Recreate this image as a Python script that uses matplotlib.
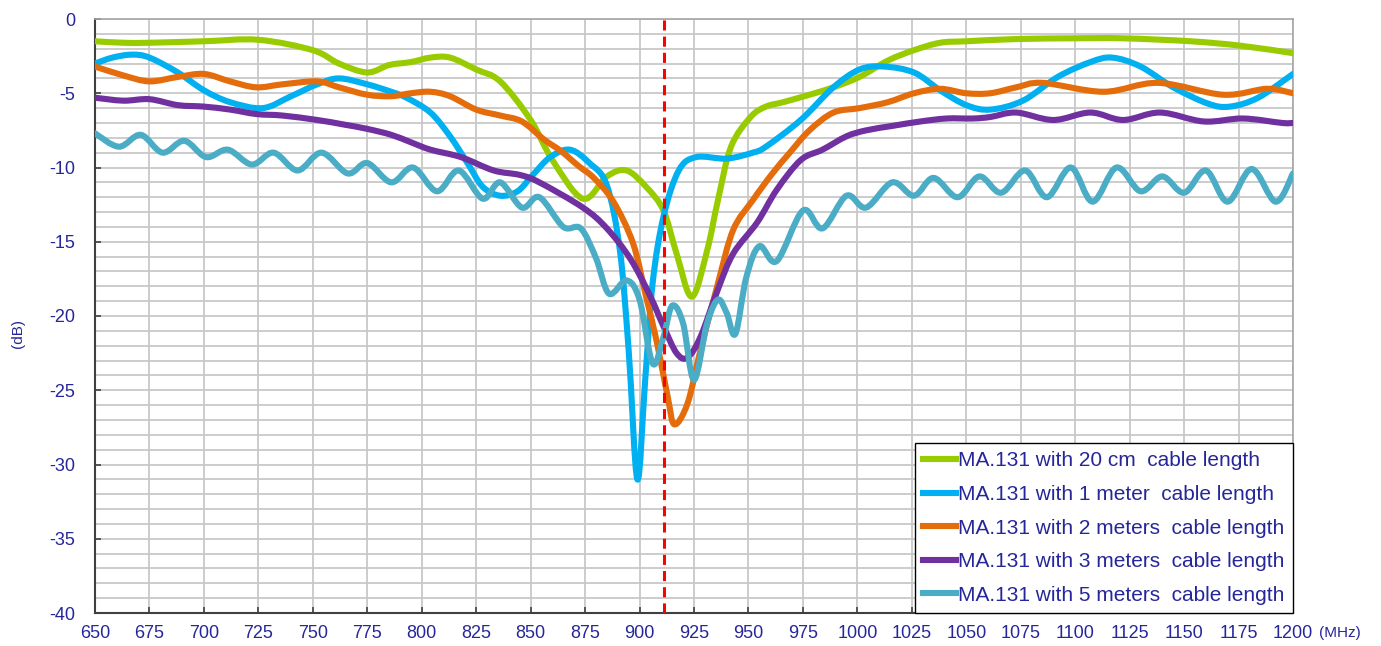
import numpy as np
import matplotlib
matplotlib.use('Agg')
import matplotlib.pyplot as plt
from matplotlib.path import Path
from matplotlib.patches import PathPatch

# frequency (MHz) / return loss (dB)
green_f = [650, 663, 675, 700, 725, 750, 762, 775, 785, 795, 804, 813, 825, 836, 850, 860, 874, 885, 894, 903, 911, 917, 924, 931, 936, 942, 951, 958, 966, 978, 989, 1001, 1014, 1026, 1038, 1050, 1073, 1100, 1122, 1153, 1176, 1200]
green_db = [-1.5, -1.6, -1.6, -1.5, -1.4, -2.1, -3.0, -3.6, -3.1, -2.9, -2.6, -2.6, -3.4, -4.2, -6.8, -9.5, -12.1, -10.6, -10.2, -11.3, -12.9, -15.8, -18.7, -15.6, -12.2, -8.6, -6.6, -5.9, -5.6, -5.1, -4.6, -3.9, -2.8, -2.1, -1.6, -1.5, -1.35, -1.3, -1.3, -1.5, -1.8, -2.3]

blue_f = [650, 658, 667, 675, 688, 700, 712, 727, 740, 752, 762, 775, 786, 793, 804, 813, 821, 828, 836, 844, 851, 859, 868, 877, 885, 891, 895, 899, 902.5, 906, 911, 918, 926, 940, 952, 958, 974, 989, 1001, 1012, 1026, 1038, 1050, 1061, 1076, 1092, 1107, 1117, 1130, 1145, 1161, 1171, 1184, 1200]
blue_db = [-3.0, -2.6, -2.4, -2.6, -3.6, -4.8, -5.6, -6.0, -5.2, -4.4, -4.0, -4.4, -4.9, -5.3, -6.3, -7.9, -9.7, -11.3, -11.9, -11.6, -10.5, -9.3, -8.8, -9.7, -11.2, -15.6, -22.3, -31.0, -24.5, -17.8, -13.3, -10.2, -9.3, -9.4, -9.0, -8.6, -6.8, -4.6, -3.4, -3.2, -3.6, -4.8, -5.8, -6.1, -5.5, -3.9, -2.9, -2.6, -3.2, -4.6, -5.7, -5.9, -5.3, -3.7]

orange_f = [650, 663, 675, 688, 700, 712, 724, 736, 752, 762, 775, 786, 795, 804, 813, 825, 836, 846, 856, 864, 872, 879, 888, 897, 903, 908, 913, 916, 922, 928, 936, 943, 952, 961, 969, 978, 989, 1001, 1014, 1026, 1038, 1050, 1061, 1073, 1085, 1113, 1138, 1168, 1188, 1200]
orange_db = [-3.2, -3.8, -4.2, -3.9, -3.7, -4.2, -4.6, -4.4, -4.2, -4.6, -5.1, -5.2, -5.0, -4.9, -5.2, -6.1, -6.5, -6.9, -8.1, -8.9, -9.9, -10.7, -12.3, -15.1, -18.7, -21.8, -25.5, -27.3, -25.9, -22.3, -17.8, -14.2, -12.2, -10.4, -9.0, -7.5, -6.3, -6.0, -5.6, -5.0, -4.7, -5.0, -5.0, -4.6, -4.3, -4.9, -4.3, -5.1, -4.7, -5.0]

purple_f = [650, 663, 675, 688, 700, 712, 724, 736, 752, 764, 775, 786, 795, 804, 818, 833, 845, 854, 874, 885, 896, 905, 911, 917, 922, 928, 936, 943, 954, 963, 974, 984, 995, 1004, 1016, 1029, 1041, 1053, 1061, 1073, 1090, 1107, 1122, 1139, 1159, 1177, 1195, 1200]
purple_db = [-5.3, -5.5, -5.4, -5.8, -5.9, -6.1, -6.4, -6.5, -6.8, -7.1, -7.4, -7.8, -8.3, -8.8, -9.3, -10.2, -10.5, -11.0, -12.7, -14.1, -16.2, -18.7, -20.7, -22.5, -22.8, -21.4, -18.2, -15.8, -13.7, -11.5, -9.5, -8.8, -7.9, -7.5, -7.2, -6.9, -6.7, -6.7, -6.6, -6.3, -6.8, -6.3, -6.8, -6.3, -6.9, -6.7, -7.0, -7.0]

teal_f = [650, 661, 671, 681, 691, 701, 711, 722, 732, 743, 754, 766, 775, 786, 796, 807, 817, 828, 836, 846, 854, 865, 873, 880, 886, 894, 900, 906, 911, 915, 920, 925, 931, 936, 940, 944, 949, 955, 963, 975, 984, 995, 1004, 1016, 1026, 1035, 1046, 1056, 1066, 1077, 1087, 1098, 1108, 1119, 1130, 1140, 1150, 1160, 1170, 1181, 1192, 1200]
teal_db = [-7.7, -8.6, -7.8, -9.0, -8.2, -9.3, -8.8, -9.8, -9.0, -10.2, -9.0, -10.4, -9.7, -11.0, -10.0, -11.6, -10.2, -12.1, -11.0, -12.7, -12.0, -14.0, -14.1, -16.1, -18.5, -17.6, -18.9, -23.2, -21.4, -19.3, -20.5, -24.3, -20.5, -18.9, -19.8, -21.2, -17.4, -15.3, -16.3, -12.9, -14.1, -11.9, -12.7, -11.0, -11.9, -10.7, -12.0, -10.6, -11.7, -10.2, -12.0, -10.0, -12.3, -10.0, -11.6, -10.6, -11.7, -10.2, -12.3, -10.1, -12.3, -10.4]

labels = ['MA.131 with 20 cm  cable length',
          'MA.131 with 1 meter  cable length',
          'MA.131 with 2 meters  cable length',
          'MA.131 with 3 meters  cable length',
          'MA.131 with 5 meters  cable length']
colors = ['#99CC00', '#00B0F0', '#E46C0A', '#7030A0', '#4BACC6']
marker_freq = 911  # red dashed line

x_ticks = list(range(650, 1201, 25))
y_ticks = list(range(-40, 1, 5))


def smooth_path(xs, ys):
    # excel style smoothed line: catmull-rom segments as cubic beziers
    p = np.column_stack([xs, ys]).astype(float)
    pts = [p[0]]
    codes = [Path.MOVETO]
    n = len(p)
    for i in range(n - 1):
        p0 = p[max(i - 1, 0)]
        p1 = p[i]
        p2 = p[i + 1]
        p3 = p[min(i + 2, n - 1)]
        pts += [p1 + (p2 - p0) / 6, p2 - (p3 - p1) / 6, p2]
        codes += [Path.CURVE4] * 3
    return Path(pts, codes)


navy = '#26269A'
plt.rcParams['font.family'] = ['Liberation Sans', 'DejaVu Sans']
plt.rcParams['axes.unicode_minus'] = False

fig = plt.figure(figsize=(13.81, 6.46), dpi=100)
ax = fig.add_axes([95/1381, 1 - 613/646, (1293-95)/1381, (613-19)/646])

series = [(green_f, green_db), (blue_f, blue_db), (orange_f, orange_db),
          (purple_f, purple_db), (teal_f, teal_db)]
for (f, db), c, lab in zip(series, colors, labels):
    patch = PathPatch(smooth_path(f, db), facecolor='none', edgecolor=c, lw=4.4,
                      joinstyle='round', capstyle='round', zorder=3)
    ax.add_patch(patch)
    ax.plot([], [], color=c, lw=4.4, label=lab)

ax.axvline(marker_freq, color='#FF0000', lw=2.2, linestyle=(0, (3.3, 2.0)), zorder=4)

ax.set_xlim(650, 1200)
ax.set_ylim(-40, 0)
ax.set_xticks(x_ticks)
ax.set_yticks(y_ticks)
ax.set_yticks(np.arange(-40, 0, 1), minor=True)
ax.grid(which='both', color='#C8C8C8', lw=1.3, zorder=0)
ax.set_axisbelow(True)
ax.tick_params(axis='both', which='major', direction='in', length=4, width=1.2,
               labelsize=13, labelcolor=navy, color='#404040')
ax.tick_params(axis='y', which='major', pad=14)
ax.tick_params(axis='x', which='major', pad=9)
ax.tick_params(axis='y', which='minor', length=0)

for s in ['left', 'bottom']:
    ax.spines[s].set_color('#404040')
    ax.spines[s].set_linewidth(1.5)
for s in ['top', 'right']:
    ax.spines[s].set_color('#A6A6A6')
    ax.spines[s].set_linewidth(1.2)

leg = ax.legend(loc='lower right', borderaxespad=0, fontsize=15, labelcolor=navy,
                handlelength=1.6, handletextpad=0.1, labelspacing=0.7,
                borderpad=0.4, fancybox=False, framealpha=1)
leg.get_frame().set_edgecolor('black')
leg.get_frame().set_linewidth(1.0)
leg.set_zorder(5)

fig.text(18/1381, 1 - 333/646, '(dB)', rotation=90, color=navy, fontsize=11,
         ha='center', va='center')
fig.text(1340/1381, 1 - 633/646, '(MHz)', color=navy, fontsize=11,
         ha='center', va='center')

fig.savefig('out.png', dpi=100)
